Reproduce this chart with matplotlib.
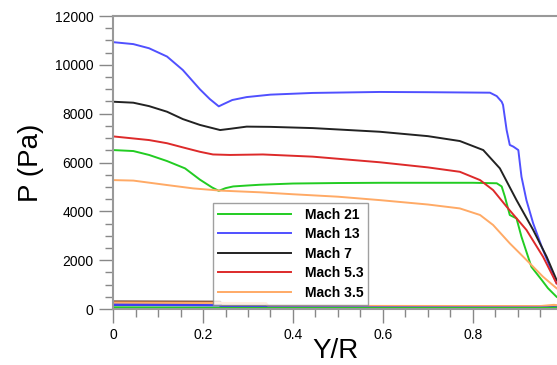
import numpy as np
import matplotlib.pyplot as plt

plt.rcParams['font.family'] = ['Liberation Sans', 'DejaVu Sans']

# upper curves (wall pressure)
x21 = [0, 0.045, 0.08, 0.12, 0.16, 0.193, 0.22, 0.235, 0.25, 0.267, 0.3, 0.327, 0.4, 0.5, 0.6, 0.7, 0.8,
       0.853, 0.864, 0.871, 0.882, 0.897, 0.908, 0.93, 0.953, 0.967, 0.986]
p21 = [6510, 6470, 6310, 6060, 5760, 5300, 4980, 4840, 4950, 5020, 5060, 5090, 5140, 5160, 5170, 5170, 5170,
       5150, 5020, 4610, 3850, 3710, 2960, 1730, 1190, 850, 500]

x13 = [0, 0.045, 0.08, 0.12, 0.155, 0.193, 0.215, 0.235, 0.244, 0.265, 0.297, 0.35, 0.444, 0.593, 0.7, 0.771,
       0.838, 0.853, 0.864, 0.867, 0.875, 0.882, 0.89, 0.901, 0.908, 0.919, 0.934, 0.953, 0.971, 0.986]
p13 = [10930, 10850, 10680, 10340, 9790, 9000, 8600, 8300, 8380, 8560, 8680, 8780, 8850, 8890, 8880, 8870,
       8860, 8720, 8490, 8360, 7330, 6720, 6650, 6510, 5420, 4460, 3510, 2550, 1730, 1050]

x7 = [0, 0.045, 0.08, 0.12, 0.155, 0.193, 0.238, 0.26, 0.297, 0.35, 0.444, 0.593, 0.7, 0.771, 0.823, 0.86,
      0.897, 0.934, 0.964, 0.986]
p7 = [8490, 8450, 8310, 8080, 7780, 7540, 7330, 7380, 7470, 7460, 7410, 7260, 7080, 6880, 6510, 5760,
      4460, 3240, 2140, 1190]

x53 = [0, 0.08, 0.12, 0.155, 0.193, 0.222, 0.26, 0.333, 0.444, 0.593, 0.7, 0.771, 0.816, 0.845, 0.875,
       0.919, 0.956, 0.986]
p53 = [7070, 6920, 6790, 6620, 6440, 6330, 6310, 6330, 6240, 6010, 5800, 5620, 5280, 4870, 4190,
       3240, 2140, 1050]

x35 = [0, 0.045, 0.119, 0.178, 0.238, 0.327, 0.4, 0.5, 0.593, 0.7, 0.771, 0.816, 0.845, 0.882, 0.919,
       0.956, 0.986]
p35 = [5280, 5260, 5080, 4940, 4850, 4780, 4700, 4600, 4460, 4280, 4120, 3850, 3440, 2690, 2010,
       1320, 850]

# lower curves (near zero)
xb = [0, 0.238, 0.24, 0.34, 0.345, 0.95, 0.98, 0.99]
pb_black = [300, 290, 120, 110, 100, 90, 110, 120]
pb_orange = [260, 250, 240, 230, 120, 110, 160, 140]
pb_blue = [170, 150, 80, 70, 60, 50, 60, 70]
pb_green = [60, 40, 30, 30, 30, 30, 40, 50]

labels = ['Mach 21', 'Mach 13', 'Mach 7', 'Mach 5.3', 'Mach 3.5']
colors = ['#22cc22', '#5050ff', '#222222', '#dd2a2a', '#ffaa66']

fig = plt.figure(figsize=(5.57, 3.65), dpi=100)
ax = fig.add_axes([0.203, 0.1534, 0.797, 0.8027])

for xs, ps, lab, c in zip([x21, x13, x7, x53, x35], [p21, p13, p7, p53, p35], labels, colors):
    ax.plot(xs, ps, color=c, lw=1.4, label=lab)

for ps, c in zip([pb_black, pb_orange, pb_blue, pb_green], ['#5a3020', colors[4], '#4040ee', colors[0]]):
    ax.plot(xb, ps, color=c, lw=1.8)

ax.set_xlim(0, 0.987)
ax.set_ylim(0, 12000)
ax.set_xticks([0, 0.2, 0.4, 0.6, 0.8])
ax.set_xticklabels(['0', '0.2', '0.4', '0.6', '0.8'])
ax.set_xticks(np.arange(0, 0.99, 0.05), minor=True)
ax.set_yticks(np.arange(0, 12001, 2000))
ax.set_yticks(np.arange(0, 12001, 500), minor=True)
ax.tick_params(which='major', direction='out', length=10, width=1, color='#888888', labelsize=10, pad=4)
ax.tick_params(which='minor', direction='out', length=6, width=1, color='#888888')
for s in ['left', 'bottom', 'top']:
    ax.spines[s].set_color('#999999')
    ax.spines[s].set_linewidth(1.5)
ax.spines['right'].set_visible(False)

ax.set_ylabel('P (Pa)', fontsize=20, labelpad=8)
ax.set_xlabel('Y/R', fontsize=20, labelpad=-3)

leg = ax.legend(loc='lower left', bbox_to_anchor=(0.225, 0.015), prop={'weight': 'bold', 'size': 10},
                frameon=True, fancybox=False, handlelength=5.3, borderpad=0.35, labelspacing=0.4,
                handletextpad=0.95, borderaxespad=0)
leg.get_frame().set_edgecolor('#888888')
leg.get_frame().set_linewidth(1)

fig.savefig('out.png', dpi=100)
